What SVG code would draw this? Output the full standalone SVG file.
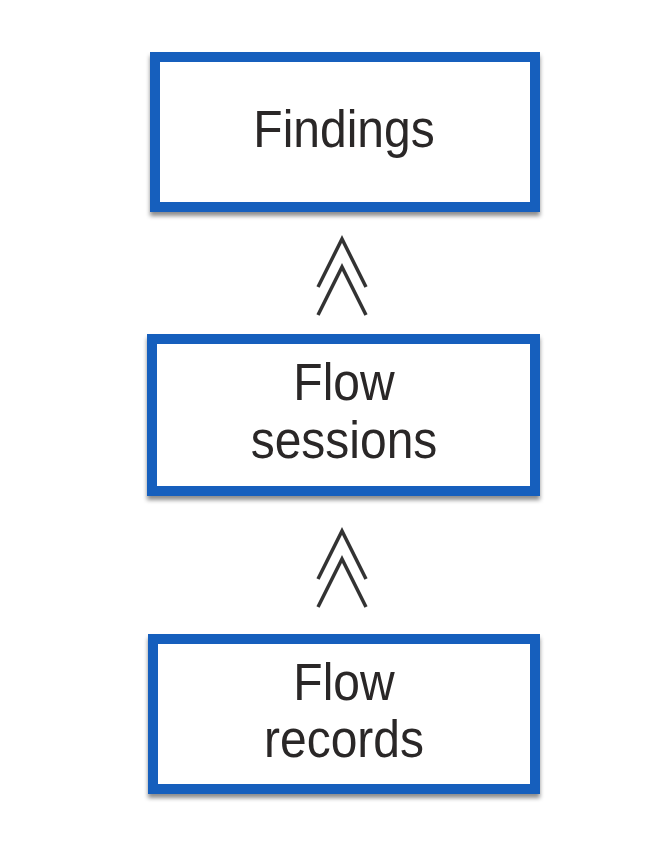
<svg xmlns="http://www.w3.org/2000/svg" width="668" height="864" viewBox="0 0 668 864">
<style>
.box{fill:#ffffff;stroke:#165ebd;stroke-width:10;filter:url(#sh)}
.lbl{font-family:"Liberation Sans",Arial,sans-serif;font-size:48px;fill:#2a2727;text-anchor:middle}
.chev{fill:none;stroke:#333333;stroke-width:3.5}
</style>
<defs>
<filter id="sh" x="-10%" y="-10%" width="120%" height="130%">
<feDropShadow dx="0" dy="4" stdDeviation="2" flood-color="#000" flood-opacity="0.45"/>
</filter>
</defs>
<rect width="668" height="864" fill="#ffffff"/>
<g id="connectors">
<path class="chev" d="M318,287 L342,239 L366,287 M318,315 L342,267 L366,315"/>
<path class="chev" d="M318,579 L342,531 L366,579 M318,607 L342,559 L366,607"/>
</g>
<g id="findings">
<rect class="box" x="155" y="57" width="380" height="150"/>
<text class="lbl" transform="translate(344,147) scale(1,1.08)">Findings</text>
</g>
<g id="flow-sessions">
<rect class="box" x="152" y="339" width="383" height="152"/>
<text class="lbl" transform="translate(344,400) scale(1,1.08)">Flow</text>
<text class="lbl" transform="translate(344,458) scale(1,1.08)">sessions</text>
</g>
<g id="flow-records">
<rect class="box" x="153" y="639" width="382" height="150"/>
<text class="lbl" transform="translate(344,700) scale(1,1.08)">Flow</text>
<text class="lbl" transform="translate(344,757) scale(1,1.08)">records</text>
</g>
</svg>
